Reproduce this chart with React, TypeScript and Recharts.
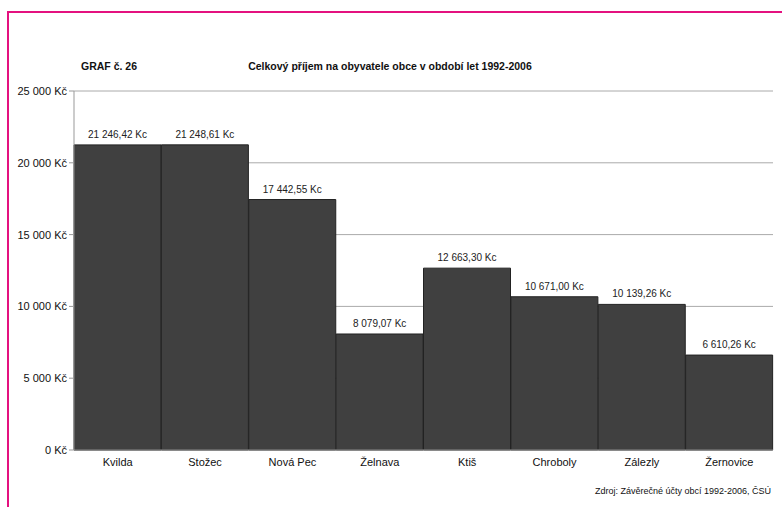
import React from 'react';
import { BarChart, Bar, XAxis, YAxis, CartesianGrid, LabelList } from 'recharts';

const obce = ['Kvilda', 'Stožec', 'Nová Pec', 'Želnava', 'Ktiš', 'Chroboly', 'Zálezly', 'Žernovice'];
const prijem = [21246.42, 21248.61, 17442.55, 8079.07, 12663.3, 10671.0, 10139.26, 6610.26];
const yTicks = [0, 5000, 10000, 15000, 20000, 25000];

const FONT = '"Liberation Sans", Arial, Helvetica, sans-serif';
const PINK = '#e4117f';

const data = obce.map((name, i) => ({ name, value: prijem[i] }));

// "21 246,42 Kc"
const fmtValue = (v: number) => {
  const [int, dec] = v.toFixed(2).split('.');
  return int.replace(/\B(?=(\d{3})+(?!\d))/g, ' ') + ',' + dec + ' Kc';
};
const fmtTick = (v: number) => (v === 0 ? '0 Kč' : String(v).replace(/\B(?=(\d{3})+(?!\d))/g, ' ') + ' Kč');

const ValueLabel = (props: any) => {
  const { x, y, width, value } = props;
  return (
    <text x={Number(x) + Number(width) / 2} y={Number(y) - 7} textAnchor="middle" fontSize={10} fill="#222" fontFamily={FONT}>
      {fmtValue(Number(value))}
    </text>
  );
};

export default function App() {
  return (
    <div style={{ position: 'absolute', left: 0, top: 0, width: 782, height: 507, background: '#fff', fontFamily: FONT, overflow: 'hidden' }}>
      {/* ramecek */}
      <div style={{ position: 'absolute', left: 8, top: 11, width: 774, height: 2, background: PINK }} />
      <div style={{ position: 'absolute', left: 7, top: 11, width: 2, height: 496, background: PINK }} />

      <div style={{ position: 'absolute', left: 81, top: 60, fontSize: 10.5, fontWeight: 'bold', color: '#111' }}>GRAF č. 26</div>
      <div style={{ position: 'absolute', left: 190, width: 400, textAlign: 'center', top: 60, fontSize: 10.5, fontWeight: 'bold', color: '#111' }}>
        Celkový příjem na obyvatele obce v období let 1992-2006
      </div>

      <BarChart
        width={782}
        height={507}
        data={data}
        margin={{ top: 91, right: 9, bottom: 27, left: 0 }}
        barCategoryGap={0}
        style={{ position: 'absolute', left: 0, top: 0 }}
      >
        <CartesianGrid vertical={false} stroke="#aaa" strokeWidth={1} />
        <XAxis
          dataKey="name"
          axisLine={{ stroke: '#999' }}
          tickLine={false}
          tickSize={0}
          tickMargin={8}
          interval={0}
          tick={{ fontSize: 11, fill: '#111', fontFamily: FONT }}
        />
        <YAxis
          width={74}
          domain={[0, 25000]}
          ticks={yTicks}
          tickFormatter={fmtTick}
          axisLine={{ stroke: '#999' }}
          tickLine={{ stroke: '#999' }}
          tickSize={5}
          tickMargin={2}
          tick={{ fontSize: 11, fill: '#111', fontFamily: FONT }}
        />
        <YAxis
          yAxisId="r"
          orientation="right"
          width={0}
          domain={[0, 25000]}
          tick={false}
          tickLine={false}
          axisLine={{ stroke: '#aaa' }}
        />
        <Bar dataKey="value" fill="#404040" stroke="#222" strokeWidth={1} isAnimationActive={false}>
          <LabelList dataKey="value" content={ValueLabel} />
        </Bar>
      </BarChart>

      <div style={{ position: 'absolute', right: 11, top: 486, fontSize: 9, color: '#111' }}>
        Zdroj: Závěrečné účty obcí 1992-2006, ČSÚ
      </div>
    </div>
  );
}
